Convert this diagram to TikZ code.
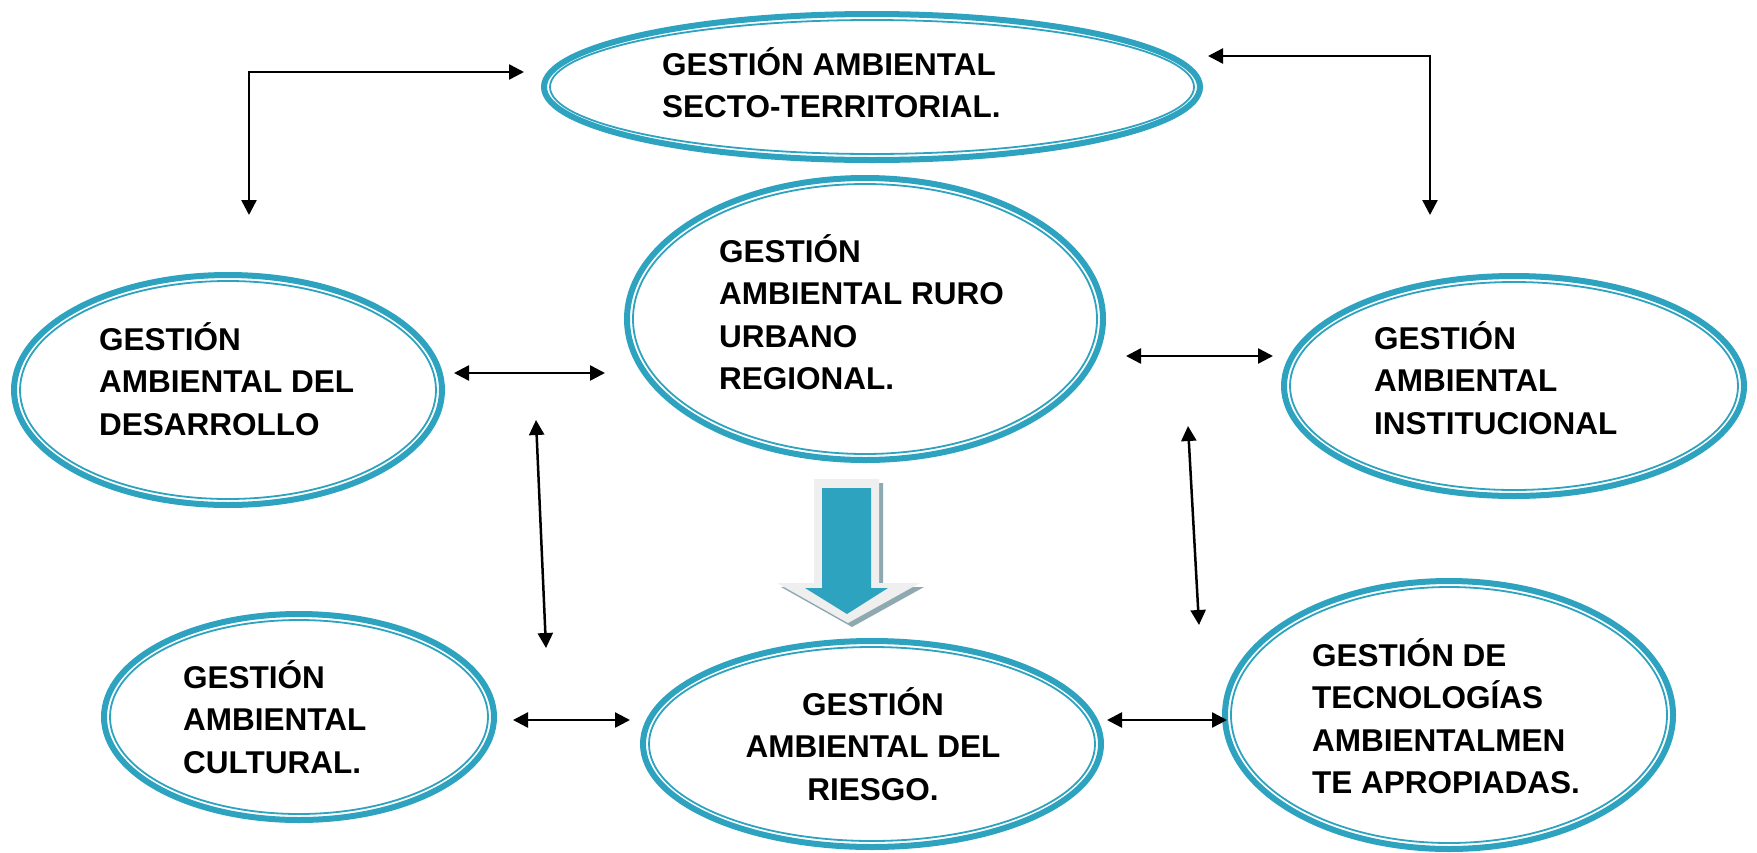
\documentclass[tikz,border=0pt]{standalone}
\usepackage{fontspec}
\setmainfont{Liberation Sans}[BoldFont={Liberation Sans Bold}]
\usetikzlibrary{arrows.meta}
\definecolor{ringblue}{HTML}{2EA3C0}
\definecolor{arrowlight}{HTML}{EFEFEF}
\definecolor{arrowshadow}{HTML}{8FA9B0}
\newcommand{\gellipse}[3]{%
  \draw[ringblue, line width=6pt] #1 ellipse [x radius=#2pt-3pt, y radius=#3pt-3pt];
  \draw[ringblue, line width=1.8pt] #1 ellipse [x radius=#2pt-9pt, y radius=#3pt-9pt];
}
\tikzset{
  lbl/.style={font=\bfseries\fontsize{31.5}{42.5}\selectfont, inner sep=0pt, align=left, anchor=base west},
  lblc/.style={font=\bfseries\fontsize{31.5}{42.5}\selectfont, inner sep=0pt, align=center, anchor=base},
  link/.style={line width=2.5pt, {Triangle[length=15pt,width=15pt]}-{Triangle[length=15pt,width=15pt]}},
}
\begin{document}
\begin{tikzpicture}[x=1pt, y=-1pt]
\useasboundingbox (0,0) rectangle (1757,852);
\fill[white] (0,0) rectangle (1757,852);

% ellipses
\gellipse{(872,87)}{331}{76}
\gellipse{(865,319)}{241}{144}
\gellipse{(228,390)}{217}{118}
\gellipse{(1514,386)}{233}{113}
\gellipse{(299,717)}{198}{106}
\gellipse{(872,744)}{232}{106}
\gellipse{(1449,715)}{227}{137}

% labels (anchor = baseline of the last line)
\node[lbl] (sect) at (662,117.5) {GESTIÓN AMBIENTAL\\SECTO-TERRITORIAL.};
\node[lbl] (ruro) at (719,389.5) {GESTIÓN\\AMBIENTAL RURO\\URBANO\\REGIONAL.};
\node[lbl] (desa) at (99,435) {GESTIÓN\\AMBIENTAL DEL\\DESARROLLO};
\node[lbl] (inst) at (1374,434) {GESTIÓN\\AMBIENTAL\\INSTITUCIONAL};
\node[lbl] (cult) at (183,773) {GESTIÓN\\AMBIENTAL\\CULTURAL.};
\node[lblc] (ries) at (873,800) {GESTIÓN\\AMBIENTAL DEL\\RIESGO.};
\node[lbl] (tecn) at (1312,793.5) {GESTIÓN DE\\TECNOLOGÍAS\\AMBIENTALMEN\\TE APROPIADAS.};

% connector end points
\coordinate (a1s) at (249,215); \coordinate (a1e) at (524,72);
\coordinate (a2s) at (1208,56); \coordinate (a2e) at (1430,215);
\coordinate (a3s) at (454,373); \coordinate (a3e) at (605,373);
\coordinate (a4s) at (1126,356); \coordinate (a4e) at (1273,356);
\coordinate (a5s) at (536,420); \coordinate (a5e) at (546,648);
\coordinate (a6s) at (1188,426); \coordinate (a6e) at (1199,625);
\coordinate (a7s) at (513,720); \coordinate (a7e) at (630,720);
\coordinate (a8s) at (1107,720); \coordinate (a8e) at (1227,720);

\draw[link] (a1s) |- (a1e);
\draw[link] (a2s) -| (a2e);
\draw[link] (a3s) -- (a3e);
\draw[link] (a4s) -- (a4e);
\draw[link] (a5s) -- (a5e);
\draw[link] (a6s) -- (a6e);
\draw[link] (a7s) -- (a7e);
\draw[link] (a8s) -- (a8e);

% big down arrow
\fill[arrowshadow] (818,483) -- (883,483) -- (883,587) -- (924,587) -- (852,627) -- (781,587) -- (818,587) -- cycle;
\fill[arrowlight] (814,479) -- (879,479) -- (879,583) -- (920,583) -- (848,623) -- (777,583) -- (814,583) -- cycle;
\fill[ringblue] (822,488) -- (871,488) -- (871,588) -- (888,588) -- (847,614) -- (805,588) -- (822,588) -- cycle;
\end{tikzpicture}
\end{document}
